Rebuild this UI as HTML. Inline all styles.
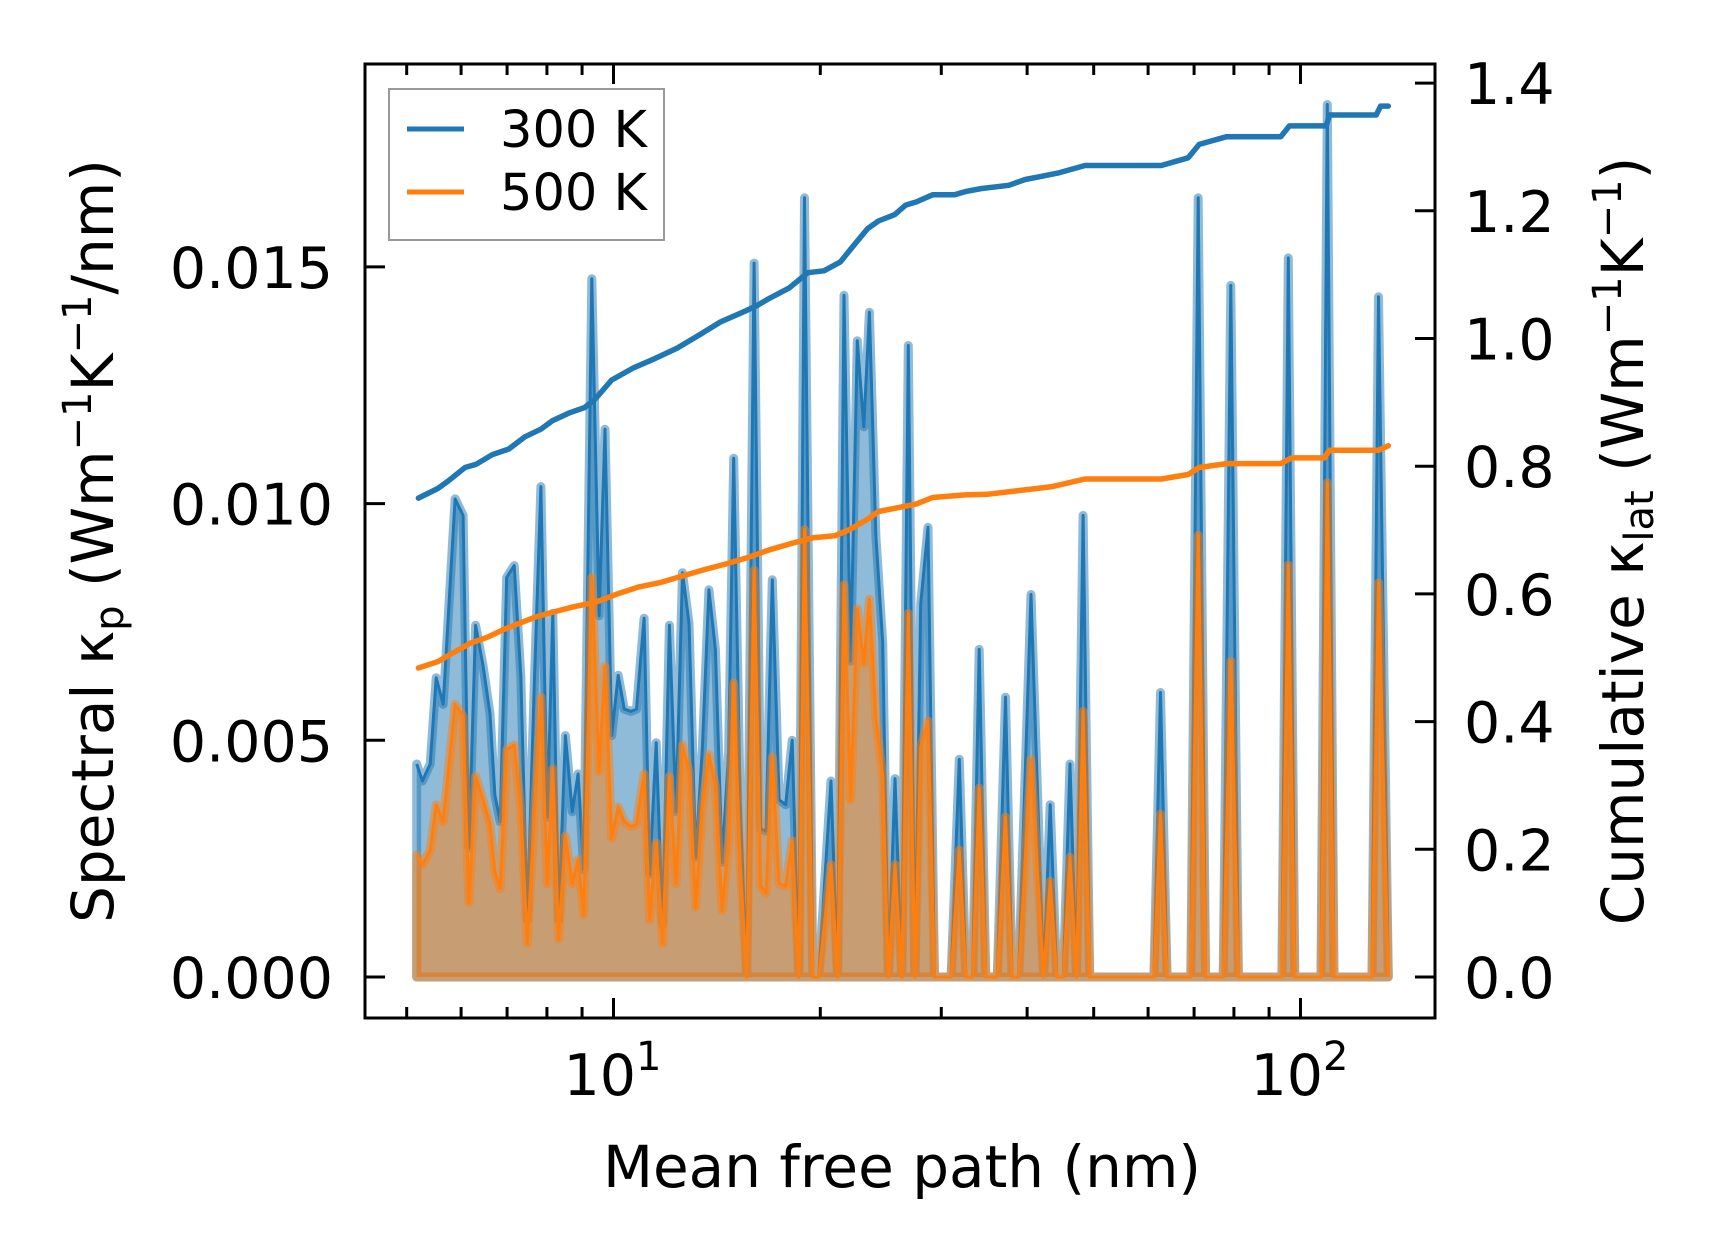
<!DOCTYPE html>
<html><head><meta charset="utf-8"><style>
html,body{margin:0;padding:0;background:#fff;}
svg{display:block;font-family:"DejaVu Sans","Liberation Sans",sans-serif;}
</style></head><body>
<svg id="chart" width="1716" height="1258" viewBox="0 0 1716 1258" xmlns="http://www.w3.org/2000/svg"></svg>
<script>
// ---- data ----
const mfp = [5.17,5.27,5.41,5.52,5.65,5.88,6.04,6.16,6.30,6.46,6.61,6.72,6.84,6.99,7.17,7.33,7.49,7.67,7.84,8.01,8.16,8.32,8.51,8.71,8.88,9.05,9.30,9.53,9.72,9.94,10.16,10.37,10.60,10.80,11.08,11.29,11.54,11.79,12.06,12.33,12.60,12.88,13.17,13.47,13.77,14.07,14.39,14.71,14.96,15.29,15.63,16.02,16.38,16.67,17.03,17.42,17.81,18.20,18.61,18.97,19.50,19.89,20.73,21.19,21.65,22.14,22.64,23.14,23.58,24.10,24.65,25.13,25.69,26.28,26.86,27.46,28.00,28.69,29.33,31.00,31.87,32.58,33.32,34.06,34.83,36.20,37.21,38.04,38.88,40.52,42.27,43.22,44.18,45.16,46.18,47.20,48.26,49.33,61.17,62.55,63.95,69.23,70.98,72.76,77.17,79.17,81.22,93.96,95.98,98.12,107.1,109.4,111.9,127.1,129.9,134.2];
const spec300 = [0.00450,0.00414,0.00450,0.00632,0.00576,0.01010,0.00975,0.00273,0.00743,0.00657,0.00556,0.00384,0.00328,0.00844,0.00869,0.00637,0.00121,0.00626,0.01036,0.00338,0.00768,0.00121,0.00510,0.00349,0.00429,0.00227,0.01475,0.00763,0.01157,0.00510,0.00637,0.00566,0.00561,0.00566,0.00758,0.00217,0.00495,0.00111,0.00743,0.00349,0.00854,0.00748,0.00253,0.00485,0.00818,0.00692,0.00242,0.00475,0.01096,0.00369,0,0.01508,0.00313,0.00308,0.00839,0.00374,0.00364,0.00500,0,0.01646,0,0,0.00414,0,0.01440,0.00667,0.01344,0.01162,0.01404,0.00930,0.00707,0,0.00419,0,0.01334,0,0.00788,0.00950,0,0,0.00460,0,0,0.00692,0,0,0.00591,0,0,0.00808,0,0.00364,0,0,0.00450,0,0.00975,0,0,0.00601,0,0,0.01646,0,0,0.01461,0,0,0.01519,0,0,0.01843,0,0,0.01437,0];
const spec500 = [0.00258,0.00237,0.00268,0.00364,0.00328,0.00576,0.00551,0.00157,0.00424,0.00374,0.00323,0.00222,0.00187,0.00480,0.00490,0.00354,0.00071,0.00344,0.00591,0.00197,0.00440,0.00081,0.00298,0.00197,0.00248,0.00131,0.00844,0.00434,0.00657,0.00293,0.00359,0.00328,0.00318,0.00323,0.00429,0.00121,0.00283,0.00071,0.00424,0.00197,0.00490,0.00434,0.00147,0.00359,0.00470,0.00404,0.00141,0.00283,0.00621,0.00237,0,0.00859,0.00192,0.00177,0.00465,0.00197,0.00192,0.00288,0,0.00945,0,0,0.00237,0,0.00829,0.00374,0.00778,0.00662,0.00798,0.00546,0.00424,0,0.00237,0,0.00768,0,0.00485,0.00541,0,0,0.00268,0,0,0.00399,0,0,0.00338,0,0,0.00460,0,0.00202,0,0,0.00253,0,0.00561,0,0,0.00344,0,0,0.00933,0,0,0.00667,0,0,0.00870,0,0,0.01044,0,0,0.00833,0];
const cumX300 = [5.20,5.55,5.75,6.08,6.31,6.66,7.04,7.43,7.84,8.14,8.60,9.08,9.42,9.94,10.69,11.51,12.38,13.31,14.32,15.41,16.15,16.87,18.01,19.17,20.25,21.39,22.18,23.43,24.30,25.67,26.63,27.60,29.14,31.34,32.51,34.35,37.62,39.75,41.99,44.34,48.56,62.69,68.64,71.22,78.06,93.62,96.36,109.0,110.2,128.9,130.8,134.2];
const cum300 = [0.750,0.765,0.777,0.798,0.803,0.818,0.827,0.846,0.858,0.871,0.883,0.892,0.906,0.935,0.954,0.969,0.985,1.005,1.026,1.041,1.051,1.063,1.079,1.103,1.106,1.120,1.141,1.172,1.184,1.194,1.209,1.214,1.225,1.225,1.230,1.235,1.240,1.249,1.254,1.259,1.271,1.271,1.283,1.304,1.316,1.316,1.333,1.333,1.350,1.350,1.364,1.364];
const cumX500 = [5.20,5.55,5.87,6.19,6.55,6.91,7.29,7.71,8.14,8.76,9.42,10.13,10.89,11.72,12.60,13.56,14.59,15.69,16.87,18.15,19.52,21.00,22.18,23.43,24.30,25.67,27.60,29.14,32.51,34.98,39.01,43.53,48.56,62.69,68.64,71.22,78.06,93.62,97.03,108.3,110.2,129.9,134.2];
const cum500 = [0.484,0.494,0.509,0.523,0.532,0.544,0.554,0.564,0.571,0.580,0.587,0.600,0.611,0.618,0.628,0.638,0.647,0.657,0.669,0.679,0.688,0.691,0.702,0.717,0.729,0.734,0.741,0.751,0.755,0.756,0.762,0.768,0.780,0.780,0.787,0.798,0.804,0.804,0.813,0.813,0.825,0.825,0.832];
const leftTicks = [0, 0.005, 0.010, 0.015];
const leftTickLabels = ["0.000","0.005","0.010","0.015"];
const rightTicks = [0,0.2,0.4,0.6,0.8,1.0,1.2,1.4];
const rightTickLabels = ["0.0","0.2","0.4","0.6","0.8","1.0","1.2","1.4"];
const xMajor = [10,100];
const xMinor = [5,6,7,8,9,20,30,40,50,60,70,80,90];

// ---- axes ----
const L=365,R=1435,T=64,B=1018;
const sx = v => 613.5 + (Math.log10(v)-1)*687;
const syL = v => 977 - v/0.005*236.7;
const syR = v => 977 - v/0.2*127.7;
const NS="http://www.w3.org/2000/svg";
const svg=document.getElementById('chart');
function mk(tag,attrs,parent){const e=document.createElementNS(NS,tag);for(const k in attrs)e.setAttribute(k,attrs[k]);(parent||svg).appendChild(e);return e;}

const plot=mk('g',{});



function drawFill(vals,color,name){
  let d='M'+sx(mfp[0])+','+syL(0);
  mfp.forEach((m,i)=>{d+=' L'+sx(m).toFixed(1)+','+syL(vals[i]).toFixed(1);});
  d+=' L'+sx(mfp[mfp.length-1])+','+syL(0)+' Z';
  const p=mk('path',{d:d,fill:color,'fill-opacity':0.5,stroke:color,'stroke-opacity':0.5,'stroke-width':9,'stroke-linejoin':'round'},plot);
  
  
  const pts=mfp.map((m,i)=>sx(m).toFixed(1)+','+syL(vals[i]).toFixed(1)).join(' ');
  const l=mk('polyline',{points:pts,fill:'none',stroke:color,'stroke-width':3,'stroke-linejoin':'round'},plot);
  
  
}
drawFill(spec300,'#1f77b4','spectral-300k');
drawFill(spec500,'#ff7f0e','spectral-500k');

function drawCum(xs,ys,color,name){
  const pts=xs.map((m,i)=>sx(m).toFixed(1)+','+syR(ys[i]).toFixed(1)).join(' ');
  const l=mk('polyline',{points:pts,fill:'none',stroke:color,'stroke-width':5.5,'stroke-linejoin':'round','stroke-linecap':'round'},plot);
  
  
}
drawCum(cumX300,cum300,'#1f77b4','cumulative-300k');
drawCum(cumX500,cum500,'#ff7f0e','cumulative-500k');

// frame
const fr=mk('rect',{x:L,y:T,width:R-L,height:B-T,fill:'none',stroke:'#000','stroke-width':3});



const ticks=mk('g',{stroke:'#000','stroke-width':3});


xMajor.forEach(v=>{const x=sx(v);mk('line',{x1:x,x2:x,y1:B,y2:B-20},ticks);mk('line',{x1:x,x2:x,y1:T,y2:T+20},ticks);});
xMinor.forEach(v=>{const x=sx(v);mk('line',{x1:x,x2:x,y1:B,y2:B-11},ticks);mk('line',{x1:x,x2:x,y1:T,y2:T+11},ticks);});
leftTicks.forEach(v=>{const y=syL(v);mk('line',{x1:L,x2:L+20,y1:y,y2:y},ticks);});
rightTicks.forEach(v=>{const y=syR(v);mk('line',{x1:R,x2:R-20,y1:y,y2:y},ticks);});

const lab=mk('g',{'font-size':57,fill:'#000'});
leftTicks.forEach((v,i)=>{const t=mk('text',{x:333,y:syL(v)+21,'text-anchor':'end'},lab);t.textContent=leftTickLabels[i];
  
  });
rightTicks.forEach((v,i)=>{const t=mk('text',{x:1464,y:syR(v)+21,'text-anchor':'start'},lab);t.textContent=rightTickLabels[i];
  
  });
[["10","1"],["10","2"]].forEach((p,i)=>{const t=mk('text',{x:sx(xMajor[i])-1,y:1095,'text-anchor':'middle'},lab);
  t.innerHTML=p[0]+'<tspan dy="-25" font-size="40">'+p[1]+'</tspan>';
  
  });
</script>
<svg style="position:absolute;left:0;top:0" width="1716" height="1258">
<text x="902" y="1187" text-anchor="middle" font-size="58" font-family="DejaVu Sans, Liberation Sans, sans-serif">Mean free path (nm)</text>
<text transform="translate(113,541) rotate(-90)" text-anchor="middle" font-size="58" font-family="DejaVu Sans, Liberation Sans, sans-serif">Spectral κ<tspan font-size="40" dy="10">p</tspan><tspan dy="-10"> (Wm</tspan><tspan font-size="40" dy="-22">−1</tspan><tspan dy="22">K</tspan><tspan font-size="40" dy="-22">−1</tspan><tspan dy="22">/nm)</tspan></text>
<text transform="translate(1643,541) rotate(-90)" text-anchor="middle" font-size="58" font-family="DejaVu Sans, Liberation Sans, sans-serif">Cumulative κ<tspan font-size="40" dy="10">lat</tspan><tspan dy="-10"> (Wm</tspan><tspan font-size="40" dy="-22">−1</tspan><tspan dy="22">K</tspan><tspan font-size="40" dy="-22">−1</tspan><tspan dy="22">)</tspan></text>
<g>
<rect x="389" y="89" width="275" height="151" fill="#fff" fill-opacity="0.8" stroke="#999" stroke-width="2"/>
<g>
<line x1="407" x2="464" y1="129" y2="129" stroke="#1f77b4" stroke-width="5"/>
<text x="500" y="147" font-size="51" font-family="DejaVu Sans, Liberation Sans, sans-serif">300 K</text></g>
<g>
<line x1="407" x2="464" y1="192" y2="192" stroke="#ff7f0e" stroke-width="5"/>
<text x="500" y="210" font-size="51" font-family="DejaVu Sans, Liberation Sans, sans-serif">500 K</text></g>
</g>
</svg>
</body></html>
